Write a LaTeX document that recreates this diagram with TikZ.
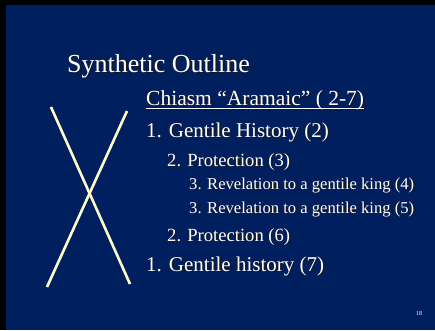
\documentclass[tikz,border=0pt]{standalone}
\usepackage{fontspec}
\setmainfont{Liberation Serif}
\usetikzlibrary{calc}
\definecolor{slideblue}{RGB}{0,31,95}
\definecolor{crosscol}{RGB}{255,255,204}
\definecolor{shadowcol}{RGB}{25,25,35}

% name, base point, font, text
\newcommand{\slidetext}[4]{%
  \node[txt, text=shadowcol, font=#3] (#1s) at ($(#2)+(1.4,1.4)$) {#4};
  \node[txt, font=#3] (#1) at (#2) {#4};
}

\begin{document}
\begin{tikzpicture}[
    x=1pt, y=-1pt,
    txt/.style={anchor=base west, inner sep=0pt, text=white},
    cross/.style={draw=crosscol, line width=2.6pt}
]
\useasboundingbox (0,0) rectangle (435,330);
% background
\fill[black] (0,0) rectangle (435,330);
\fill[slideblue] (6,5) rectangle (435,330);

% title
\slidetext{title}{67,72}{\fontsize{26}{31}\selectfont}{Synthetic Outline}

% outline
\slidetext{chiasm}{146,105}{\fontsize{21.5}{25}\selectfont}{Chiasm “Aramaic” ( 2-7)}
\draw[white, line width=0.9pt] ([yshift=-3pt]chiasm.base west) -- ([yshift=-3pt]chiasm.base east);
\slidetext{one}{146,137}{\fontsize{21}{25}\selectfont}{1. Gentile History (2)}
\slidetext{two}{167,166}{\fontsize{18.6}{22}\selectfont}{2. Protection (3)}
\slidetext{three}{189,189}{\fontsize{16.6}{19}\selectfont}{3. Revelation to a gentile king (4)}
\slidetext{threeb}{189,213}{\fontsize{16.6}{19}\selectfont}{3. Revelation to a gentile king (5)}
\slidetext{twob}{167,241}{\fontsize{18.6}{22}\selectfont}{2. Protection (6)}
\slidetext{oneb}{146,271}{\fontsize{21}{25}\selectfont}{1. Gentile history (7)}

% cross
\coordinate (xa) at (51,107);
\coordinate (xb) at (130,284);
\coordinate (xc) at (127,111);
\coordinate (xd) at (47,287);
\draw[cross] (xa) -- (xb);
\draw[cross] (xc) -- (xd);

% page number
\node[txt, font=\fontsize{6}{7}\selectfont] (page) at (416,315) {18};
\end{tikzpicture}
\end{document}
